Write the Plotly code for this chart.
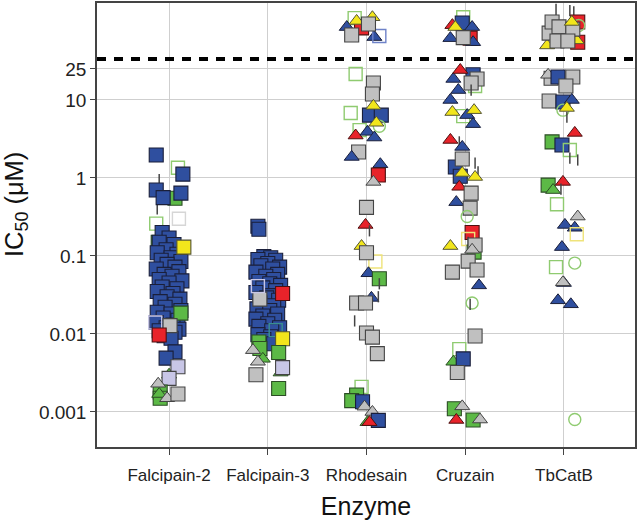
import plotly.graph_objects as go

# ---------------- data ----------------
enzymes = ["Falcipain-2", "Falcipain-3", "Rhodesain", "Cruzain", "TbCatB"]
y_tickvals = [0.001, 0.01, 0.1, 1, 10, 25]
y_ticktext = ["0.001", "0.01", "0.1", "1", "10", "25"]
inactive_cutoff = 33.6  # dashed line (values above = inactive)

# (kind, jitter in category units, IC50 in uM)
falcipain2_points = [
    ("OGS", 0.09, 1.35), ("GS", 0.06, 0.55), ("GS", -0.11, 0.15), ("OWS", 0.10, 0.30),
    ("OGS", -0.13, 0.26), ("TH", -0.10, 0.95), ("TH", -0.12, 0.40),
    ("BS", -0.13, 1.97), ("BS", 0.14, 1.12), ("BS", -0.13, 0.70), ("BS", -0.06, 0.56),
    ("BS", 0.12, 0.64), ("BS", -0.07, 0.20),
    ("BS", 0.00, 0.17), ("BS", -0.10, 0.15), ("BS", 0.05, 0.14), ("BS", -0.03, 0.12),
    ("BS", -0.12, 0.11), ("BS", 0.08, 0.105), ("BS", 0.02, 0.095), ("BS", -0.08, 0.088),
    ("BS", 0.12, 0.085), ("BS", -0.02, 0.078), ("BS", 0.06, 0.072), ("BS", -0.13, 0.068),
    ("BS", 0.10, 0.063), ("BS", -0.05, 0.058), ("BS", 0.03, 0.055), ("BS", -0.10, 0.050),
    ("BS", 0.13, 0.048), ("BS", 0.00, 0.045), ("BS", -0.07, 0.040), ("BS", 0.08, 0.038),
    ("BS", -0.12, 0.035), ("BS", 0.04, 0.033), ("BS", -0.02, 0.030), ("BS", 0.11, 0.028),
    ("BS", -0.09, 0.026), ("BS", 0.06, 0.024), ("BS", -0.04, 0.022), ("BS", 0.12, 0.020),
    ("BS", -0.12, 0.019), ("BS", 0.02, 0.018), ("BS", -0.06, 0.016), ("BS", 0.09, 0.015),
    ("BS", -0.13, 0.014), ("BS", 0.04, 0.013), ("BS", -0.03, 0.012), ("BS", 0.10, 0.0115),
    ("BS", -0.10, 0.011), ("BS", 0.06, 0.0105), ("BS", -0.05, 0.0095), ("BS", 0.02, 0.0088),
    ("BS", 0.06, 0.0059), ("BS", -0.03, 0.0049),
    ("YS", 0.15, 0.13), ("GS", 0.12, 0.0185), ("OLS", -0.14, 0.014), ("XS", 0.01, 0.0128),
    ("RS", -0.10, 0.0097), ("GT", 0.00, 0.0030), ("LS", 0.09, 0.0038), ("LS", 0.00, 0.0027),
    ("GS", -0.09, 0.0018), ("GS", -0.09, 0.0015), ("GT", -0.10, 0.0017), ("XT", -0.11, 0.0023),
    ("XT", -0.02, 0.0015), ("XS", 0.09, 0.0017),
]

falcipain3_points = [
    ("BS", -0.10, 0.24), ("BS", -0.09, 0.22), ("BS", -0.04, 0.098), ("BS", 0.03, 0.095),
    ("BS", -0.10, 0.09), ("BS", 0.08, 0.088), ("BS", 0.00, 0.08), ("BS", -0.07, 0.075),
    ("BS", 0.12, 0.072), ("BS", 0.05, 0.068), ("BS", -0.12, 0.062), ("BS", 0.10, 0.058),
    ("BS", -0.02, 0.055), ("BS", 0.06, 0.05), ("BS", -0.09, 0.047), ("BS", 0.02, 0.044),
    ("BS", 0.13, 0.042), ("BS", -0.05, 0.039), ("BS", 0.08, 0.036), ("BS", -0.12, 0.034),
    ("BS", 0.04, 0.031), ("BS", -0.01, 0.029), ("BS", 0.11, 0.027), ("BS", -0.08, 0.025),
    ("BS", 0.06, 0.023), ("BS", -0.11, 0.021), ("BS", 0.02, 0.020), ("BS", 0.10, 0.018),
    ("BS", -0.05, 0.017), ("BS", -0.12, 0.0155), ("BS", 0.07, 0.015), ("BS", 0.00, 0.0135),
    ("BS", -0.09, 0.0125), ("BS", 0.12, 0.012), ("BS", 0.04, 0.011), ("BS", -0.10, 0.0098),
    ("BS", 0.03, 0.0092), ("BS", -0.04, 0.0085), ("BS", 0.06, 0.0075),
    ("RS", 0.15, 0.033), ("XS", -0.08, 0.028), ("OLS", -0.10, 0.041),
    ("GS", -0.09, 0.0079), ("GS", -0.08, 0.0065), ("OTS", 0.08, 0.0112), ("YS", 0.15, 0.0087),
    ("GS", 0.11, 0.0058), ("XT", -0.15, 0.0062), ("GT", -0.05, 0.0048), ("XT", -0.10, 0.0044),
    ("GT", 0.13, 0.0032), ("LS", 0.15, 0.0037), ("XS", -0.12, 0.0030), ("GS", 0.11, 0.0020),
]

rhodesain_points = [
    ("OGS", -0.12, 112), ("BT", -0.20, 86), ("RS", -0.05, 84), ("YT", -0.10, 103),
    ("YT", 0.06, 115), ("BT", 0.08, 64), ("OBS", 0.13, 66), ("XS", 0.02, 94), ("XS", -0.15, 68),
    ("OGS", -0.11, 21.5), ("XS", 0.07, 16.5), ("XS", 0.06, 11.9), ("OGS", -0.16, 6.8),
    ("BS", 0.03, 6.4), ("BS", 0.15, 6.4), ("YT", 0.07, 8.4), ("OGC", 0.13, 4.6),
    ("OGS", -0.07, 4.1), ("YT", 0.10, 5.1), ("RT", -0.11, 3.5), ("BT", 0.01, 3.9),
    ("BT", 0.08, 3.3), ("XS", -0.08, 2.15), ("BT", -0.15, 1.86), ("BT", 0.14, 1.5),
    ("RS", 0.12, 1.09), ("XT", 0.07, 0.89), ("XS", 0.00, 0.42), ("RT", -0.01, 0.25),
    ("TH", 0.03, 0.21), ("YT", -0.05, 0.134), ("OYS", 0.09, 0.085), ("XS", 0.00, 0.11),
    ("BT", 0.02, 0.06), ("GS", 0.13, 0.051), ("BT", 0.05, 0.029), ("XS", -0.10, 0.025),
    ("XS", -0.01, 0.025), ("TH", 0.13, 0.044), ("TH", 0.12, 0.030), ("TH", -0.12, 0.0147),
    ("XS", 0.00, 0.0103), ("XS", 0.06, 0.0091), ("XS", 0.11, 0.0056),
    ("OGS", -0.05, 0.0021), ("GS", -0.10, 0.00165), ("GS", -0.15, 0.0014), ("BS", -0.04, 0.00135),
    ("XT", -0.02, 0.00117), ("XT", 0.06, 0.00100), ("BS", 0.12, 0.00078), ("GT", 0.01, 0.00074),
    ("RT", 0.03, 0.00074),
]

cruzain_points = [
    ("OGS", -0.02, 115), ("RT", -0.13, 91), ("BS", -0.03, 97), ("YT", -0.10, 86),
    ("BT", 0.07, 86), ("BT", -0.15, 62), ("RS", 0.05, 62), ("BT", 0.08, 55), ("XS", -0.02, 63),
    ("OGS", 0.10, 15.1), ("BT", -0.12, 18.6), ("BS", 0.08, 21), ("XS", 0.12, 18.6),
    ("XS", 0.06, 16.5), ("RT", -0.05, 24.2), ("BT", -0.07, 13.4), ("TH", 0.06, 13.4),
    ("BT", -0.15, 10.0), ("OGS", -0.02, 6.2), ("YT", -0.13, 7.0), ("BT", 0.02, 6.4),
    ("YT", 0.09, 7.4), ("BT", 0.08, 4.9), ("RT", -0.15, 3.07), ("TH", -0.06, 2.9),
    ("BT", -0.03, 2.5), ("BS", -0.10, 1.38), ("BS", -0.05, 1.05), ("XS", -0.03, 1.75),
    ("YT", -0.03, 1.16), ("TH", 0.10, 1.55), ("TH", 0.13, 1.2), ("YT", 0.10, 1.03),
    ("RT", -0.06, 0.77), ("XS", 0.06, 0.64), ("BT", -0.09, 0.49), ("XS", 0.05, 0.41),
    ("OGC", 0.02, 0.32), ("RS", 0.07, 0.20), ("OYS", 0.03, 0.165), ("TH", 0.03, 0.15),
    ("YT", -0.15, 0.134), ("GS", 0.09, 0.112), ("XS", 0.10, 0.138), ("XT", 0.07, 0.12),
    ("XS", 0.03, 0.086), ("XS", -0.13, 0.062), ("XS", 0.12, 0.066), ("BT", 0.14, 0.042),
    ("OGC", 0.07, 0.025), ("TH", 0.05, 0.024), ("XS", 0.10, 0.0094), ("OGS", -0.06, 0.0064),
    ("GT", -0.12, 0.0044), ("BS", -0.02, 0.0048), ("XS", -0.08, 0.0032),
    ("GS", -0.11, 0.0011), ("XT", -0.03, 0.00118), ("RT", -0.09, 0.00079),
    ("GS", 0.08, 0.00079), ("XT", 0.15, 0.0008),
]

tbcatb_points = [
    ("TH", 0.06, 140), ("TH", 0.10, 135), ("TH", -0.08, 145), ("RS", 0.14, 100),
    ("OGC", 0.15, 90), ("BS", 0.05, 75), ("RS", 0.14, 55), ("YT", -0.17, 50), ("YT", 0.13, 58),
    ("XS", -0.15, 72), ("XS", -0.12, 100), ("XS", -0.05, 86.6), ("XS", 0.09, 81),
    ("XS", -0.07, 57), ("XS", 0.04, 57), ("YT", 0.08, 100),
    ("XS", -0.13, 19.0), ("XT", -0.16, 21), ("BS", -0.06, 19.7), ("XS", 0.09, 19.7),
    ("XS", 0.02, 15.1), ("XS", -0.15, 9.7), ("BS", -0.01, 9.4), ("BT", 0.08, 10.0),
    ("OGC", -0.01, 7.4), ("YT", 0.03, 7.9), ("TH", 0.03, 6.0), ("RT", 0.11, 3.78),
    ("GS", -0.12, 2.9), ("BS", -0.02, 2.65), ("OGS", 0.06, 2.28), ("TH", 0.06, 1.8),
    ("TH", 0.14, 1.7), ("GS", -0.16, 0.81), ("RT", -0.01, 0.89), ("GT", -0.11, 0.70),
    ("TH", -0.03, 0.72), ("OGS", -0.07, 0.46), ("BT", 0.11, 0.23), ("XT", 0.14, 0.32),
    ("BT", 0.01, 0.25), ("OYS", 0.13, 0.19), ("BT", -0.02, 0.13), ("OGS", -0.08, 0.072),
    ("OGC", 0.11, 0.081), ("BT", 0.00, 0.045), ("XT", -0.01, 0.046), ("BT", -0.06, 0.027),
    ("BT", 0.07, 0.024), ("OGC", 0.11, 0.0008),
]

all_points = [falcipain2_points, falcipain3_points, rhodesain_points, cruzain_points, tbcatb_points]

# ---------------- styles ----------------
BLUE, GREEN, RED, YELLOW, GREY, LAV = "#2F4F9F", "#5CB946", "#E8232A", "#F2E61C", "#C0C0C0", "#C8C6E6"
STYLE = {
    "BS": ("square", BLUE, "#1a1f3a", 1.1, 14), "BT": ("triangle-up", BLUE, "#1a1f3a", 1, 13),
    "GS": ("square", GREEN, "#2b4d24", 1.1, 14), "GT": ("triangle-up", GREEN, "#2b4d24", 1, 13),
    "RS": ("square", RED, "#4d1010", 1.1, 14), "RT": ("triangle-up", RED, "#4d1010", 1, 13),
    "YS": ("square", YELLOW, "#555533", 1.1, 14), "YT": ("triangle-up", YELLOW, "#555533", 1, 13),
    "XS": ("square", GREY, "#444444", 1.1, 14), "XT": ("triangle-up", GREY, "#444444", 1, 13),
    "LS": ("square", LAV, "#444444", 1.1, 14),
    "OGS": ("square-open", "#8FCB70", "#8FCB70", 1.4, 13), "OGC": ("circle-open", "#8FCB70", "#8FCB70", 1.4, 12),
    "OYS": ("square-open", "#EFE37A", "#EFE37A", 1.4, 13), "OWS": ("square-open", "#D6D6D6", "#D6D6D6", 1.4, 13),
    "OLS": ("square-open", "#C8C6E6", "#C8C6E6", 1.4, 13), "OBS": ("square-open", "#6E82C8", "#6E82C8", 1.4, 13),
    "OTS": ("square-open", "#3A8F8F", "#3A8F8F", 1.4, 13),
    "TH": ("line-ns-open", "#444444", "#444444", 1.5, 8),
}

X_RANGE = [0.27, 5.72]
PLOT_L, PLOT_R, PLOT_T, PLOT_B = 97, 4, 3, 82

fig = go.Figure()
for i, pts in enumerate(all_points):
    xs = [i + 1 + j for (_, j, _) in pts]
    ys = [v for (_, _, v) in pts]
    st = [STYLE[k] for (k, _, _) in pts]
    fig.add_trace(go.Scatter(
        x=xs, y=ys, mode="markers", showlegend=False, hoverinfo="skip",
        marker=dict(symbol=[s[0] for s in st], color=[s[1] for s in st],
                    size=[s[4] for s in st],
                    line=dict(color=[s[2] for s in st], width=[s[3] for s in st]),
                    opacity=1),
    ))

fig.add_trace(go.Scatter(
    x=X_RANGE, y=[inactive_cutoff, inactive_cutoff], mode="lines", showlegend=False,
    hoverinfo="skip", line=dict(color="black", width=4, dash="9px,8px"),
))

font_family = "Arial, Liberation Sans, sans-serif"
fig.update_layout(
    width=639, height=529,
    margin=dict(l=PLOT_L, r=PLOT_R, t=PLOT_T, b=PLOT_B, autoexpand=False),
    paper_bgcolor="white", plot_bgcolor="white",
    font=dict(family=font_family, color="#222222"),
    xaxis=dict(range=X_RANGE, tickmode="array", tickvals=[1, 2, 3, 4, 5], ticktext=enzymes,
               showgrid=True, gridcolor="#cfcfcf", gridwidth=1, zeroline=False,
               ticks="outside", ticklen=6, tickcolor="#444", tickwidth=1,
               ticklabelstandoff=6,
               showline=True, mirror=True, linecolor="#444", linewidth=1.5,
               tickfont=dict(size=17, color="#222"),
               title=dict(text="Enzyme", font=dict(size=25, color="#111"), standoff=13)),
    yaxis=dict(type="log", range=[-3.449, 2.243], tickmode="array", tickvals=y_tickvals,
               ticktext=y_ticktext, showgrid=True, gridcolor="#cfcfcf", gridwidth=1,
               zeroline=False, ticks="outside", ticklen=5, tickcolor="#444", tickwidth=1,
               showline=True, mirror=True, linecolor="#444", linewidth=1.5,
               tickfont=dict(size=19, color="#222")),
    annotations=[dict(text="IC<sub>50</sub> (μM)", textangle=-90, showarrow=False,
                      xref="paper", yref="paper", x=0, xshift=-81, xanchor="center",
                      y=0.545, yanchor="middle", font=dict(size=25.5, color="#111"))],
)

fig.write_html("out.html", post_script="document.body.style.margin='0px';",
               config={"displayModeBar": False})
